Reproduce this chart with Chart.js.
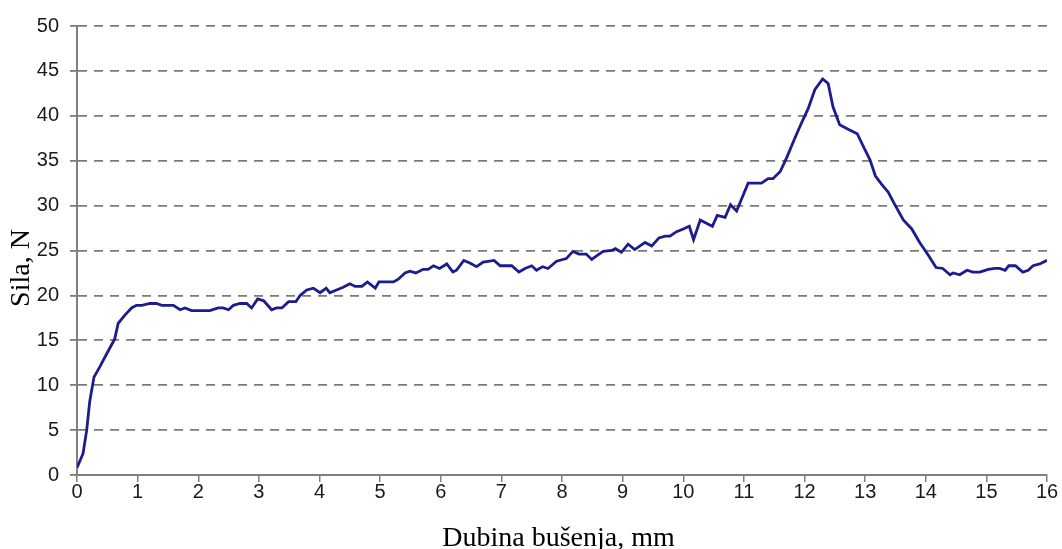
<!DOCTYPE html>
<html>
<head>
<meta charset="utf-8">
<title>Sila - dubina bušenja</title>
<script src="https://cdn.jsdelivr.net/npm/chart.js@4.4.1/dist/chart.umd.min.js"></script>
<style>
  html, body { margin: 0; padding: 0; background: #fff; }
  #wrap { width: 1062px; height: 549px; }
</style>
</head>
<body>
<div id="wrap"><canvas id="forceChart" width="1062" height="549"></canvas></div>
<script>
// --- Data ---
// drilling depth, mm
const depth = [
  0.00, 0.10, 0.16, 0.21, 0.28, 0.38, 0.49, 0.57, 0.62, 0.68,
  0.79, 0.90, 0.98, 1.07, 1.20, 1.31, 1.40, 1.59, 1.70, 1.78,
  1.89, 2.19, 2.33, 2.41, 2.50, 2.58, 2.69, 2.80, 2.88, 2.98,
  3.08, 3.21, 3.29, 3.38, 3.49, 3.61, 3.68, 3.79, 3.90, 4.01,
  4.11, 4.17, 4.28, 4.39, 4.50, 4.59, 4.70, 4.79, 4.92, 4.98,
  5.22, 5.30, 5.41, 5.49, 5.59, 5.71, 5.79, 5.88, 5.98, 6.10,
  6.20, 6.26, 6.38, 6.48, 6.59, 6.70, 6.78, 6.88, 6.98, 7.17,
  7.29, 7.39, 7.50, 7.58, 7.68, 7.77, 7.91, 8.07, 8.18, 8.28,
  8.40, 8.49, 8.57, 8.68, 8.82, 8.88, 8.98, 9.09, 9.20, 9.37,
  9.48, 9.60, 9.70, 9.78, 9.89, 10.00, 10.10, 10.17, 10.28, 10.39,
  10.48, 10.56, 10.69, 10.78, 10.88, 11.07, 11.29, 11.40, 11.48, 11.60,
  11.71, 11.84, 11.95, 12.06, 12.17, 12.30, 12.39, 12.47, 12.58, 12.72,
  12.87, 12.97, 13.08, 13.17, 13.27, 13.38, 13.49, 13.63, 13.77, 13.90,
  14.04, 14.17, 14.28, 14.40, 14.45, 14.56, 14.68, 14.78, 14.89, 15.03,
  15.14, 15.22, 15.31, 15.37, 15.48, 15.60, 15.69, 15.77, 15.88, 16.00
];
// force, N
const force = [
  0.8, 2.4, 5.0, 8.2, 10.9, 12.1, 13.5, 14.5, 15.1, 16.9,
  17.8, 18.6, 18.9, 18.9, 19.1, 19.1, 18.9, 18.9, 18.4, 18.6,
  18.3, 18.3, 18.6, 18.6, 18.4, 18.9, 19.1, 19.1, 18.6, 19.6,
  19.4, 18.4, 18.6, 18.6, 19.3, 19.3, 20.0, 20.6, 20.8, 20.3,
  20.8, 20.3, 20.6, 20.9, 21.3, 21.0, 21.0, 21.5, 20.8, 21.5,
  21.5, 21.8, 22.5, 22.7, 22.5, 22.9, 22.9, 23.3, 23.0, 23.5,
  22.6, 22.8, 23.9, 23.6, 23.2, 23.7, 23.8, 23.9, 23.3, 23.3,
  22.6, 23.0, 23.3, 22.8, 23.2, 23.0, 23.8, 24.1, 24.9, 24.6,
  24.6, 24.0, 24.4, 24.9, 25.0, 25.2, 24.8, 25.7, 25.1, 25.9,
  25.5, 26.4, 26.6, 26.6, 27.1, 27.4, 27.7, 26.2, 28.4, 28.0,
  27.7, 28.9, 28.7, 30.1, 29.4, 32.5, 32.5, 33.0, 33.0, 33.8,
  35.4, 37.5, 39.2, 40.8, 42.9, 44.1, 43.6, 41.0, 39.0, 38.5,
  38.0, 36.6, 35.1, 33.3, 32.4, 31.5, 30.1, 28.4, 27.4, 25.9,
  24.5, 23.1, 23.0, 22.3, 22.5, 22.3, 22.8, 22.6, 22.6, 22.9,
  23.0, 23.0, 22.8, 23.3, 23.3, 22.6, 22.8, 23.3, 23.5, 23.9
];

const X_MIN = 0, X_MAX = 16, X_STEP = 1;
const Y_MIN = 0, Y_MAX = 50, Y_STEP = 5;

const xTitle = 'Dubina bušenja, mm';
const yTitle = 'Sila, N';

document.addEventListener('DOMContentLoaded', () => {
    const ctx = document.getElementById('forceChart').getContext('2d');

    const points = depth.map((d, i) => ({ x: d, y: force[i] }));

    const tickFont = { family: "'Liberation Sans', Arial, sans-serif", size: 20 };
    const titleFont = { family: "'Liberation Serif', 'Times New Roman', serif", size: 28 };
    const axisGray = '#808080';

    new Chart(ctx, {
        type: 'line',
        data: {
            datasets: [{
                label: yTitle,
                data: points,
                borderColor: '#1c1c8e',
                borderWidth: 2.8,
                pointRadius: 0,
                tension: 0,
                fill: false
            }]
        },
        options: {
            responsive: false,
            animation: false,
            layout: { padding: { left: 5, right: 15, top: 26, bottom: 0 } },
            plugins: {
                legend: { display: false },
                tooltip: { enabled: false }
            },
            scales: {
                x: {
                    type: 'linear',
                    min: X_MIN,
                    max: X_MAX,
                    ticks: { stepSize: X_STEP, color: '#1a1a1a', font: tickFont, padding: -2, maxRotation: 0 },
                    grid: { drawOnChartArea: false, drawTicks: true, tickLength: 7, color: axisGray, lineWidth: 1.5 },
                    border: { color: axisGray, width: 2 },
                    // trailing space nudges the title a bit left, like the original
                    title: { display: true, text: xTitle + ' ', color: '#000', font: titleFont, padding: { top: 0, bottom: -6 } },
                    afterFit: scale => { scale.height = 74; }
                },
                y: {
                    min: Y_MIN,
                    max: Y_MAX,
                    ticks: { stepSize: Y_STEP, color: '#1a1a1a', font: tickFont, padding: 11 },
                    grid: { color: '#7a7a7a', lineWidth: 1.8, tickLength: 7 },
                    border: { color: axisGray, width: 2, dash: [9, 7] },
                    // trailing spaces push the rotated title a little down, as in the original
                    title: { display: true, text: yTitle + '     ', color: '#000', font: titleFont, padding: 0 },
                    afterFit: scale => { scale.width = 72; }
                }
            }
        }
    });
});
</script>
</body>
</html>
